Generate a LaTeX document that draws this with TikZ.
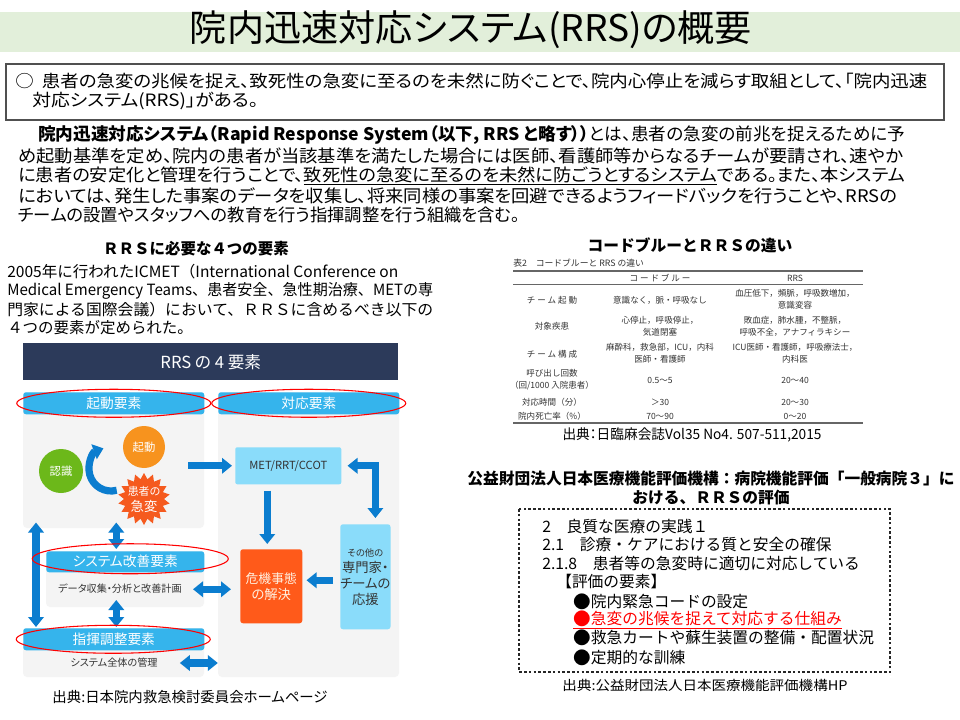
\documentclass[tikz,border=0pt]{standalone}
\usepackage{fontspec}
\setmainfont{Noto Sans CJK JP}[RawFeature=+palt]
\newfontfamily\jpm{Noto Sans CJK JP}
\usepackage{graphicx}
\usetikzlibrary{arrows.meta,shapes.geometric,calc}
\newdimen\pxu \pxu=0.75pt
\newcommand{\fitw}[2]{\resizebox{\dimexpr#1\pxu\relax}{\height}{#2}}
\newcommand{\fsz}[2]{\fontsize{#1}{#2}\selectfont}
\newcommand{\bigdot}{\raisebox{-0.6pt}{\fontsize{13.2}{12}\selectfont ●}}
\newcommand{\bx}[7]{\node[#6, anchor=north west, minimum width={(#4-#2)*0.75pt}, minimum height={(#5-#3)*0.75pt}] (#1) at (#2,#3) {#7};}
\definecolor{titlebg}{HTML}{E2EFDA}
\definecolor{boxgray}{HTML}{505050}
\definecolor{navy}{HTML}{2C3A5A}
\definecolor{band}{HTML}{35B4EC}
\definecolor{panel}{HTML}{F4F4F4}
\definecolor{arrblue}{HTML}{0B7DCF}
\definecolor{cyanbox}{HTML}{8ADCFA}
\definecolor{greenc}{HTML}{6CB81A}
\definecolor{orangec}{HTML}{F7931E}
\definecolor{burst}{HTML}{F55A1E}
\definecolor{crisis}{HTML}{FF5A1A}
\definecolor{tabtxt}{HTML}{333333}
\begin{document}
\begin{tikzpicture}[x=0.75pt,y=-0.75pt, inner sep=0pt,
  txt/.style={anchor=west, inner sep=0pt},
  ctr/.style={anchor=center, inner sep=0pt, align=center},
  barr/.style={draw=arrblue, line width=5.4pt, -{Triangle[width=11.5pt,length=7.5pt]}},
  dbarr/.style={draw=arrblue, line width=5.4pt, {Triangle[width=11.5pt,length=7.5pt]}-{Triangle[width=11.5pt,length=7.5pt]}},
  redov/.style={draw=red, line width=0.8pt},
  tab/.style={anchor=center, inner sep=0pt, align=center, text=tabtxt, font=\jpm\fsz{6.4}{9}},
]
\useasboundingbox (0,0) rectangle (960,720);
\fill[white] (0,0) rectangle (960,720);

% ---------- title ----------
\fill[titlebg] (0,12) rectangle (960,52);
\node[ctr] (title) at (471,30) {\fsz{27.5}{27}\fitw{562}{院内迅速対応システム(RRS)の概要}};

% ---------- box ----------
\draw[boxgray, line width=0.9pt] (6,64) rectangle (944,120);
\node[txt] (b1) at (15,81) {\fsz{12.75}{15}\fitw{912}{○ \ 患者の急変の兆候を捉え、致死性の急変に至るのを未然に防ぐことで、院内心停止を減らす取組として、「院内迅速}};
\node[txt] (b2) at (32,101) {\fsz{12.75}{15}\fitw{226}{対応システム(RRS)」がある。}};

% ---------- body ----------
\node[txt] (p1) at (38,135) {\fsz{13}{15}\fitw{867}{\textbf{院内迅速対応システム（Rapid Response System（以下, RRS と略す））}とは、患者の急変の前兆を捉えるために予}};
\node[txt] (p2) at (18,156) {\fsz{13}{15}\fitw{885}{め起動基準を定め、院内の患者が当該基準を満たした場合には医師、看護師等からなるチームが要請され、速やか}};
\node[txt] (p3) at (18,176) {\fsz{13}{15}\fitw{887}{に患者の安定化と管理を行うことで、\underline{致死性の急変に至るのを未然に防ごうとするシステム}である。また、本システム}};
\node[txt] (p4) at (18,196) {\fsz{13}{15}\fitw{879}{においては、発生した事案のデータを収集し、将来同様の事案を回避できるようフィードバックを行うことや、RRSの}};
\node[txt] (p5) at (18,215) {\fsz{13}{15}チームの設置やスタッフへの教育を行う指揮調整を行う組織を含む。};

% ---------- left section ----------
\node[ctr] (h4) at (196,249) {\jpm\bfseries\fsz{11.6}{14}ＲＲＳに必要な４つの要素};
\node[txt] (q1) at (7,272) {\jpm\fsz{11.6}{14}\fitw{391}{2005年に行われたICMET（International Conference on}};
\node[txt] (q2) at (7,291) {\jpm\fsz{11.6}{14}\fitw{426}{Medical Emergency Teams、患者安全、急性期治療、METの専}};
\node[txt] (q3) at (7,310) {\jpm\fsz{11.6}{14}\fitw{426}{門家による国際会議）において、ＲＲＳに含めるべき以下の}};
\node[txt] (q4) at (7,328) {\jpm\fsz{11.6}{14}４つの要素が定められた。};

% ---------- 4 elements diagram ----------
\bx{hdr}{23}{343}{398}{380}{fill=navy, text=white}{\fsz{12.5}{14}RRS の 4 要素}

\fill[panel, rounded corners=3pt] (23,392) rectangle (204,528);
\fill[panel, rounded corners=3pt] (218,392) rectangle (399,677);
\fill[panel, rounded corners=3pt] (46,551) rectangle (204,607);
\fill[panel, rounded corners=3pt] (23,628) rectangle (204,677);

\bx{bandK}{23}{392}{204}{414}{fill=band, rounded corners=2pt, text=white}{\fsz{10.3}{12}起動要素}
\bx{bandT}{218}{392}{399}{414}{fill=band, rounded corners=2pt, text=white}{\fsz{10.3}{12}対応要素}
\bx{bandS}{46}{551}{204}{572}{fill=band, rounded corners=2pt, text=white}{\fsz{10.3}{12}システム改善要素}
\bx{bandC}{23}{628}{204}{650}{fill=band, rounded corners=2pt, text=white}{\fsz{10.3}{12}指揮調整要素}

\node[ctr, text=tabtxt] (dtext) at (120,589) {\fsz{7.6}{9}データ収集・分析と改善計画};
\node[ctr, text=tabtxt] (ctext) at (114,663) {\fsz{7.6}{9}システム全体の管理};

% circles and burst
\node[circle, fill=greenc, minimum size=33pt, text=white] (ninshiki) at (61,471) {\fsz{8.5}{9}認識};
\node[circle, fill=orangec, minimum size=31.5pt, text=white] (kidou) at (144,447) {\fsz{8.5}{9}起動};
\node[star, star points=18, star point ratio=1.3, fill=burst, minimum size=39pt] (burstnode) at (144,499) {};
\node[ctr, text=white] (bursttxt) at (144,499) {\fsz{8.2}{10}患者の\\急変};
\coordinate (kcenter) at (111,469);
\draw[barr] ($(kcenter)+(75:22)$) arc[start angle=75, end angle=250, radius=22];

% response side boxes
\bx{met}{235}{447}{341}{484}{fill=cyanbox, rounded corners=1.5pt, text=tabtxt}{\fsz{8.4}{10}MET/RRT/CCOT}
\bx{crisis}{240}{549}{302}{623}{fill=crisis, rounded corners=2pt, text=white!88!orange, align=center}{\fsz{9.6}{11}危機事態\\の解決}
\bx{other}{340}{524}{389}{629}{fill=cyanbox, rounded corners=2pt, text=tabtxt, align=center}{\fsz{7}{11.3}その他の\\専門家・\\チームの\\応援}

% arrows
\draw[barr] ($(met.west)+(-47,0)$) -- ($(met.west)+(-3,0)$);
\draw[barr] ($(met.south)+(-21,6)$) -- ($(crisis.north)+(-4,-5)$);
\draw[dbarr] ($(met.east)+(6,0)$) -| ($(other.north)+(10,-6)$);
\draw[barr] ($(other.west)+(-7,3.5)$) -- ($(crisis.east)+(4,-6)$);
\draw[dbarr] ($(bandK.south)+(2.5,108)$) -- ($(bandS.north)+(-9,-2)$);
\draw[dbarr] ($(crisis.west)+(-47,3)$) -- ($(crisis.west)+(-9,3)$);
\draw[dbarr] ($(bandS.north)+(-9,49)$) -- ($(bandC.north)+(2.5,-1)$);
\draw[dbarr] ($(bandK.south west)+(13,108)$) -- ($(bandC.north west)+(13,-1)$);
\draw[dbarr] ($(ctext.east)+(22,0)$) -- ($(ctext.east)+(60,0)$);

% red ovals
\draw[redov] (bandK.center) ellipse [x radius=97, y radius=14];
\draw[redov] (bandT.center) ellipse [x radius=97, y radius=14];
\draw[redov] ($(bandS.center)+(5,-3)$) ellipse [x radius=98, y radius=15];
\draw[redov] ($(bandC.center)+(-0.5,0)$) ellipse [x radius=97, y radius=14];

\node[ctr] (cap1) at (190,697) {\fsz{10.8}{12}\fitw{275}{出典:日本院内救急検討委員会ホームページ}};

% ---------- table ----------
\node[ctr] (tabh) at (690,245) {\jpm\bfseries\fsz{11.8}{14}コードブルーとＲＲＳの違い};
\node[txt, text=tabtxt] (tabcap) at (513,263) {\jpm\fsz{6.6}{8}表2　コードブルーと RRS の違い};
\draw[gray!80!black, line width=0.8pt] (513,271) -- (863,271);
\draw[gray!80!black, line width=0.45pt] (513,284) -- (863,284);
\draw[gray!80!black, line width=0.8pt] (513,423) -- (863,423);
\node[tab] (h2) at (660,278) {コ ー ド ブ ル ー};
\node[tab] (h3) at (795,278) {RRS};
\node[tab] (r1a) at (552,300) {チ ー ム 起 動};
\node[tab] (r1b) at (660,300) {意識なく，脈・呼吸なし};
\node[tab] (r1c) at (795,299) {血圧低下，頻脈，呼吸数増加，\\意識変容};
\node[tab] (r2a) at (552,326) {対象疾患};
\node[tab] (r2b) at (660,326) {心停止，呼吸停止，\\気道閉塞};
\node[tab] (r2c) at (795,326) {敗血症，肺水腫，不整脈，\\呼吸不全，アナフィラキシー};
\node[tab] (r3a) at (552,354) {チ ー ム 構 成};
\node[tab] (r3b) at (660,353.5) {麻酔科，救急部，ICU，内科\\医師・看護師};
\node[tab] (r3c) at (795,353.5) {ICU医師・看護師，呼吸療法士，\\内科医};
\node[tab] (r4a) at (552,380) {呼び出し回数\\（回/1000 入院患者）};
\node[tab] (r4b) at (660,380) {0.5～5};
\node[tab] (r4c) at (795,380) {20～40};
\node[tab] (r5a) at (552,402) {対応時間（分）};
\node[tab] (r5b) at (660,402) {＞30};
\node[tab] (r5c) at (795,402) {20～30};
\node[tab] (r6a) at (552,416) {院内死亡率（\%）};
\node[tab] (r6b) at (660,416) {70～90};
\node[tab] (r6c) at (795,416) {0～20};
\node[ctr] (cap2) at (692,435) {\fsz{10.5}{12}\fitw{259}{出典：日臨麻会誌Vol35 No4. 507-511,2015}};

% ---------- evaluation ----------
\node[ctr] (eh1) at (711,479) {\jpm\bfseries\fsz{11.8}{14}\fitw{487}{公益財団法人日本医療機能評価機構：病院機能評価「一般病院３」に}};
\node[ctr] (eh2) at (711,498) {\jpm\bfseries\fsz{11.8}{14}おける、ＲＲＳの評価};
\draw[black!85, line width=0.9pt, dash pattern=on 2pt off 1.6pt] (519,509) rectangle (890,672);
\node[txt] (e1) at (542,527) {\jpm\fsz{11.8}{14}2　良質な医療の実践１};
\node[txt] (e2) at (542,545) {\jpm\fsz{11.8}{14}2.1　診療・ケアにおける質と安全の確保};
\node[txt] (e3) at (542,564) {\jpm\fsz{11.8}{14}2.1.8　患者等の急変時に適切に対応している};
\node[txt] (e4) at (556,582) {\jpm\fsz{11.8}{14}【評価の要素】};
\node[txt] (e5) at (573,602) {\jpm\fsz{11.8}{14}\bigdot 院内緊急コードの設定};
\node[txt, text=red] (e6) at (573,620) {\jpm\fsz{11.8}{14}\underline{\bigdot 急変の兆候を捉えて対応する仕組み}};
\node[txt] (e7) at (573,638) {\jpm\fsz{11.8}{14}\bigdot 救急カートや蘇生装置の整備・配置状況};
\node[txt] (e8) at (573,658) {\jpm\fsz{11.8}{14}\bigdot 定期的な訓練};
\node[ctr] (cap3) at (705,685) {\fsz{10}{12}\fitw{285}{出典:公益財団法人日本医療機能評価機構HP}};
\end{tikzpicture}
\end{document}
